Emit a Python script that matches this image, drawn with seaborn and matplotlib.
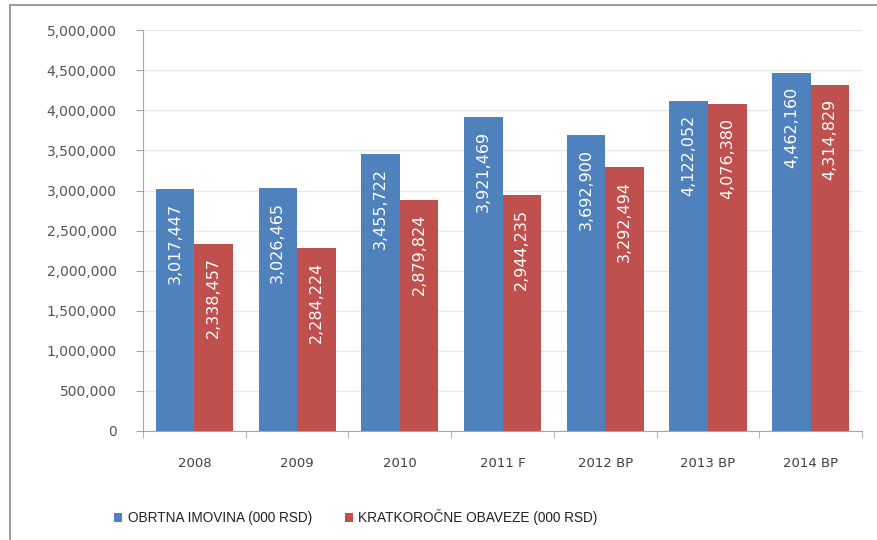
import matplotlib.pyplot as plt
import matplotlib.ticker as mticker
import numpy as np
import pandas as pd
import seaborn as sns
from matplotlib.patches import Rectangle

# data
years = ["2008", "2009", "2010", "2011 F", "2012 BP", "2013 BP", "2014 BP"]
obrtna = [3017447, 3026465, 3455722, 3921469, 3692900, 4122052, 4462160]
kratkorocne = [2338457, 2284224, 2879824, 2944235, 3292494, 4076380, 4314829]
series_names = ["OBRTNA IMOVINA (000 RSD)", "KRATKOROČNE OBAVEZE (000 RSD)"]
colors = ["#4F81BD", "#C0504D"]

df = pd.DataFrame({
    "year": years * 2,
    "value": obrtna + kratkorocne,
    "series": [series_names[0]] * len(years) + [series_names[1]] * len(years),
})

sns.set_style("white")
plt.rcParams["font.family"] = ["DejaVu Sans"]

fig = plt.figure(figsize=(8.77, 5.40), dpi=100)
ax = fig.add_axes([0.163, 0.202, 0.820, 0.742])

sns.barplot(data=df, x="year", y="value", hue="series", palette=colors,
            saturation=1, width=0.75, linewidth=0, ax=ax,
            order=years, hue_order=series_names)

# value labels inside the bars
for cont in ax.containers:
    for bar in cont:
        h = bar.get_height()
        ax.annotate(f"{h:,.0f}", (bar.get_x() + bar.get_width() / 2, h),
                    xytext=(0, -10), textcoords="offset points",
                    rotation=90, ha="center", va="top", color="white", fontsize=11.5)

ax.set_ylim(0, 5000000)
ax.set_xlim(-0.5, len(years) - 0.5)
ax.yaxis.set_major_locator(mticker.MultipleLocator(500000))
ax.yaxis.set_major_formatter(mticker.FuncFormatter(lambda v, p: f"{v:,.0f}"))
ax.grid(axis="y", color="#E8E8E8", linewidth=1)
ax.set_axisbelow(True)

for s in ["top", "right"]:
    ax.spines[s].set_visible(False)
for s in ["left", "bottom"]:
    ax.spines[s].set_color("#A6A6A6")

ax.tick_params(axis="y", which="major", left=True, length=5, color="#A6A6A6",
               labelsize=10, labelcolor="#555555", pad=14)
ax.tick_params(axis="x", which="major", length=0, labelsize=9.5,
               labelcolor="#404040", pad=19)
ax.set_xticks(np.arange(-0.5, len(years), 1), minor=True)
ax.tick_params(axis="x", which="minor", bottom=True, length=5, color="#A6A6A6")
ax.set_xlabel("")
ax.set_ylabel("")

leg = ax.legend(loc="upper center", bbox_to_anchor=(0.296, -0.165), ncol=2, frameon=False,
                handlelength=0.6, handleheight=0.6, handletextpad=0.4,
                columnspacing=2.4, labelcolor="#222222",
                prop={"family": "Liberation Sans", "size": 9.8})

# thin border around the chart area
fig.patches.append(Rectangle((0.011, -0.1), 1.2, 1.09, transform=fig.transFigure,
                             fill=False, edgecolor="#8C8C8C", linewidth=1.2))

fig.savefig("out.png", dpi=100)
